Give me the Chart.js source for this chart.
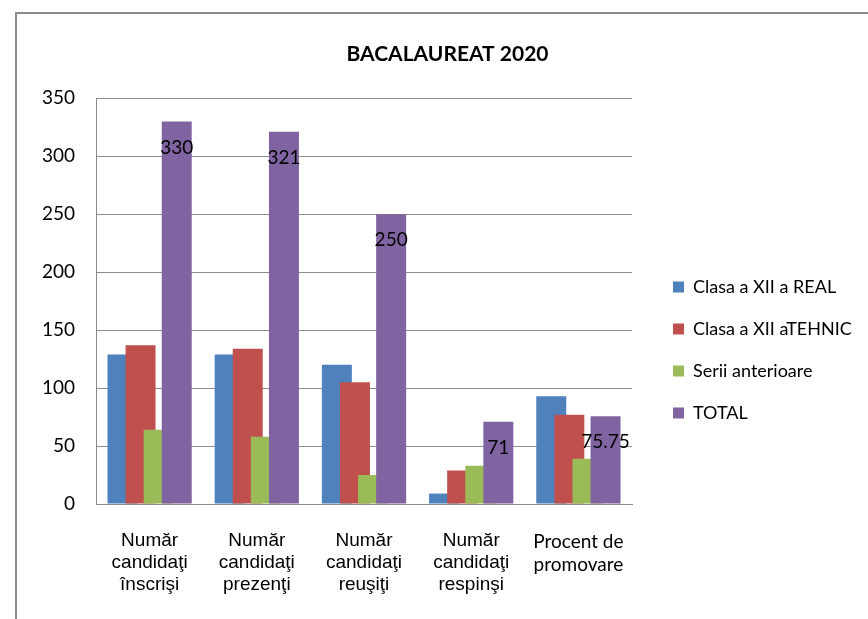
<!DOCTYPE html>
<html>
<head>
<meta charset="utf-8">
<script src="https://cdn.jsdelivr.net/npm/chart.js@4"></script>
<style>
  body { margin: 0; background: #fff; overflow: hidden; }
  #frame { position: absolute; left: 15px; top: 12px; width: 900px; height: 700px;
           border-left: 2px solid #8a8a8a; border-top: 2px solid #8a8a8a; }
  #wrap { position: absolute; left: 0; top: 0; width: 868px; height: 619px; }
</style>
</head>
<body>
<div id="frame"></div>
<div id="wrap"><canvas id="bacChart"></canvas></div>
<script>
// categorii si valori
const categorii = [
    ['Număr', 'candidaţi', 'înscrişi'],
    ['Număr', 'candidaţi', 'prezenţi'],
    ['Număr', 'candidaţi', 'reuşiţi'],
    ['Număr', 'candidaţi', 'respinşi'],
    ['Procent de', 'promovare']
];
const serii = ['Clasa a XII a REAL', 'Clasa a XII aTEHNIC', 'Serii anterioare', 'TOTAL'];
const clasaReal = [129, 129, 120, 9, 93];
const clasaTehnic = [137, 134, 105, 29, 77];
const seriiAnterioare = [64, 58, 25, 33, 39];
const total = [330, 321, 250, 71, 75.75];
const culori = ['#4F81BD', '#C0504D', '#9BBB59', '#8064A2'];
const valoriY = [0, 50, 100, 150, 200, 250, 300, 350];

document.addEventListener('DOMContentLoaded', function() {
    const valori = [clasaReal, clasaTehnic, seriiAnterioare, total];

    // Excel-style overlap: later series drawn over earlier ones, labels on TOTAL
    const ordineSiEtichete = {
        id: 'ordineSiEtichete',
        afterInit(chart) {
            // legenda mai lata decat permite layout-ul implicit
            const legend = chart.legend;
            const fitOrig = legend.fit;
            legend.fit = function() {
                fitOrig.call(this);
                this.width = 205;
            };
        },
        afterLayout(chart) {
            // legenda coborata ca in Excel
            chart.legend.top += 41;
            chart.legend.bottom += 41;
        },
        beforeDatasetsDraw(chart) {
            const ctx = chart.ctx;
            chart.getSortedVisibleDatasetMetas().forEach(meta => meta.controller.draw());
            const metaTotal = chart.getDatasetMeta(3);
            ctx.save();
            ctx.fillStyle = '#000';
            ctx.font = '19px Lato';
            ctx.textAlign = 'center';
            ctx.textBaseline = 'middle';
            metaTotal.data.forEach((bar, i) => {
                ctx.fillText(String(total[i]), bar.x, bar.y + 26);
            });
            ctx.restore();
            return false;
        }
    };

    const ctx = document.getElementById('bacChart').getContext('2d');
    new Chart(ctx, {
        type: 'bar',
        data: {
            labels: categorii,
            datasets: serii.map((nume, i) => ({
                label: nume,
                data: valori[i],
                backgroundColor: culori[i],
                borderWidth: 0,
                barPercentage: 1.657,
                categoryPercentage: 0.675
            }))
        },
        options: {
            responsive: true,
            maintainAspectRatio: false,
            animation: false,
            layout: { padding: { left: 41, right: 14, top: 0, bottom: 1 } },
            plugins: {
                title: {
                    display: true,
                    text: 'BACALAUREAT 2020',
                    color: '#000',
                    font: { family: 'Lato', size: 21, weight: 'bold', lineHeight: 1.2 },
                    padding: { top: 42, bottom: 31 }
                },
                legend: {
                    position: 'right',
                    labels: {
                        color: '#000',
                        font: { family: 'Lato', size: 18 },
                        boxWidth: 11,
                        boxHeight: 11,
                        padding: 24
                    }
                },
                tooltip: { enabled: false }
            },
            scales: {
                x: {
                    afterFit: function(scale) { scale.height = 114; },
                    grid: { display: false, drawTicks: false },
                    border: { display: true, color: '#8a8a8a', width: 1 },
                    ticks: {
                        color: '#000',
                        padding: 26,
                        maxRotation: 0,
                        autoSkip: false,
                        font: function(context) {
                            if (context.index === 4) {
                                return { family: 'Lato', size: 19, lineHeight: '23px' };
                            }
                            return { family: 'Liberation Sans', size: 19, lineHeight: '22px' };
                        }
                    }
                },
                y: {
                    min: 0,
                    max: 350,
                    afterFit: function(scale) { scale.width = 55; },
                    afterBuildTicks: function(scale) {
                        scale.ticks = valoriY.map(v => ({ value: v }));
                    },
                    grid: { color: '#8c8c8c', lineWidth: 1, drawTicks: false },
                    border: { display: true, color: '#8a8a8a', width: 1 },
                    ticks: {
                        color: '#000',
                        padding: 21,
                        font: { family: 'Lato', size: 19 }
                    }
                },
                spatiu: {
                    type: 'linear',
                    position: 'right',
                    display: true,
                    afterFit: function(scale) { scale.width = 17; },
                    grid: { display: false, drawTicks: false },
                    border: { display: false },
                    ticks: { display: false }
                }
            }
        },
        plugins: [ordineSiEtichete]
    });
});
</script>
</body>
</html>
